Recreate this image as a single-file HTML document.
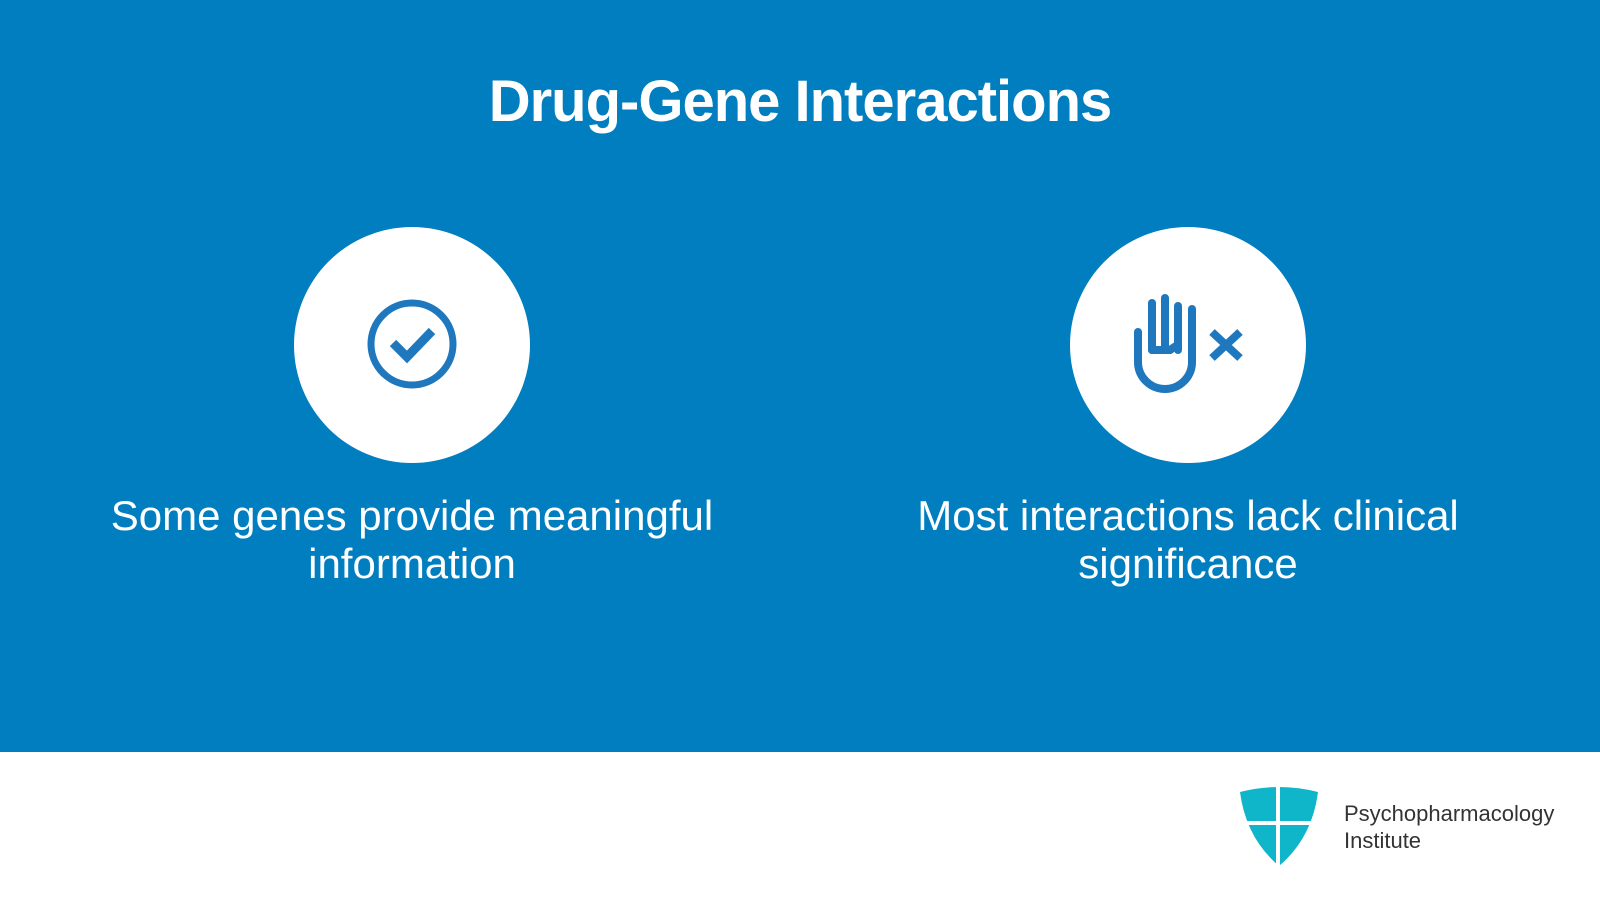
<!DOCTYPE html>
<html><head><style>
body{margin:0;width:1600px;height:899px;background:#fff;position:relative;overflow:hidden;font-family:"Liberation Sans",sans-serif}
.band{position:absolute;left:0;top:0;width:1600px;height:752px;background:#017ebf}
.t{position:absolute;left:0;width:1600px;top:68px;text-align:center;color:#fff;font-size:58px;font-weight:bold;letter-spacing:-1px}
.c{position:absolute;top:227px;width:236px;height:236px;border-radius:50%;background:#fff}
.cap{position:absolute;top:492px;width:760px;text-align:center;color:#fff;font-size:42px;line-height:48px}
.logo{position:absolute;left:1344px;top:800px;font-size:22px;line-height:27px;color:#333}
</style></head><body>
<div class="band"></div>
<div class="t">Drug-Gene Interactions</div>
<div class="c" style="left:294px"></div>
<div class="c" style="left:1070px"></div>
<svg style="position:absolute;left:0;top:0" width="1600" height="899">
<circle cx="412" cy="344" r="41" fill="none" stroke="#1f78bd" stroke-width="7"/>
<path d="M393 343 L407 357 L432 331" fill="none" stroke="#1f78bd" stroke-width="9"/>
<g fill="none" stroke="#1f78bd" stroke-width="8" stroke-linecap="round">
<path d="M1138 332 V362 a27 27 0 0 0 54 0 V309"/>
<path d="M1152 350 V303 M1165 350 V298 M1178 350 V306"/>
<path d="M1152 350 H1170 L1176 346"/>
</g>
<path d="M1212 332 L1240 358 M1240 332 L1212 358" stroke="#1f78bd" stroke-width="8"/>
<path d="M1240 792 Q1279 782 1318 792 Q1312 838 1279 866 Q1246 838 1240 792Z" fill="#0fb5c8"/>
<path d="M1278 784 V866 M1240 823 H1318" stroke="#fff" stroke-width="4"/>
</svg>
<div class="cap" style="left:32px">Some genes provide meaningful information</div>
<div class="cap" style="left:808px">Most interactions lack clinical significance</div>
<div class="logo">Psychopharmacology<br>Institute</div>
</body></html>
